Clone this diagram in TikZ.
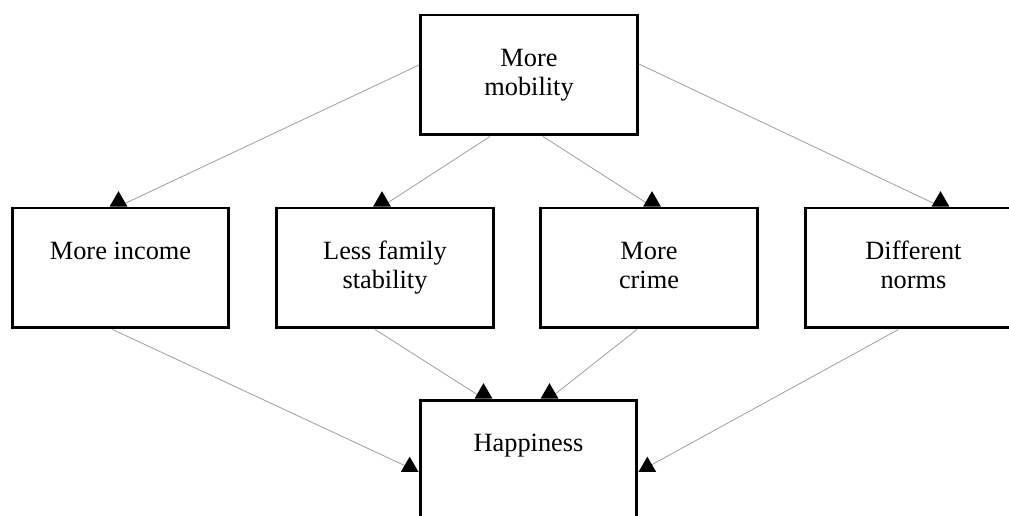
\documentclass[tikz,border=0pt]{standalone}
\usepackage{fontspec}
\setmainfont{Liberation Serif}
\usetikzlibrary{shapes.geometric}

\begin{document}
\begin{tikzpicture}[x=0.02cm, y=-0.02cm,
                    font=\fontsize{15}{17}\selectfont,
                    box/.style={draw, line width=1.7pt, minimum width=4.34cm, minimum height=2.4cm, align=center, inner sep=0pt},
                    link/.style={draw=black!38, line width=0.45pt},
                    arrowtri/.style={regular polygon, regular polygon sides=3, fill=black, inner sep=0pt, outer sep=0pt, minimum size=0.41cm}
                    ]

                    \useasboundingbox (0,0) rectangle (1009,516);
                    \clip (0,0) rectangle (1009,516);

                    \node[box] (mob) at (529,75) {More\strut\\mobility\strut};
                    \node[box] (inc) at (120.5,268) {More income\strut\\\strut};
                    \node[box] (fam) at (385,268) {Less family\strut\\stability\strut};
                    \node[box] (crime) at (649,268) {More\strut\\crime\strut};
                    \node[box] (norms) at (913.5,268) {Different\strut\\norms\strut};
                    \node[box] (hap) at (528.5,460) {Happiness\strut\\\strut};

                    \foreach \a/\sa/\b/\eb/\t in {mob.west/{0,-10}/inc.north/{-2,0}/south,
                                                  mob.south/{-39,0}/fam.north/{-3,0}/south,
                                                  mob.south/{14,0}/crime.north/{3,0}/south,
                                                  mob.east/{0,-11}/norms.north/{27,0}/south,
                                                  inc.south/{-8,0}/hap.west/{0,12}/corner 3,
                                                  fam.south/{-10,0}/hap.north/{-45,0}/south,
                                                  crime.south/{-12,0}/hap.north/{21,0}/south,
                                                  norms.south/{-15,0}/hap.east/{0,12}/corner 2}{
                        \draw[link] ([shift={(\sa)}]\a) -- ([shift={(\eb)}]\b) node[arrowtri, anchor=\t] {};
                    }

                \end{tikzpicture}
\end{document}
